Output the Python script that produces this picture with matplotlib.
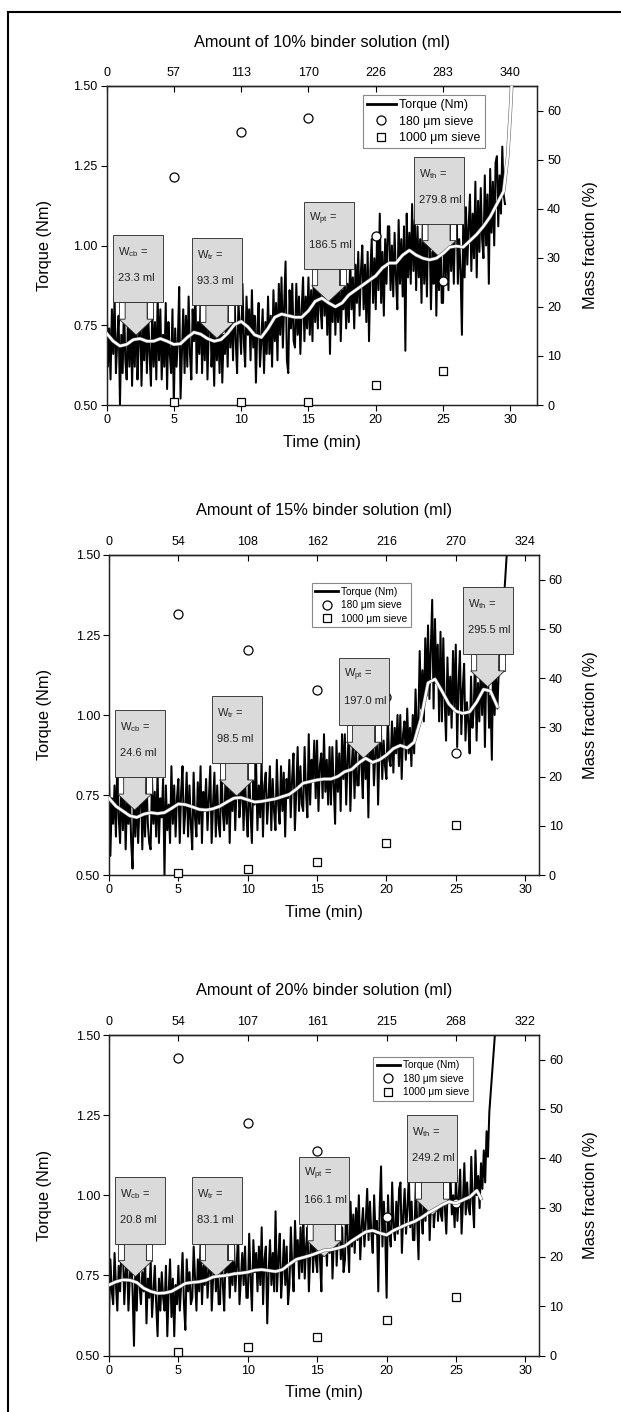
import numpy as np
import matplotlib
matplotlib.use('Agg')
import matplotlib.pyplot as plt
from matplotlib.patches import Polygon, Rectangle
from matplotlib.lines import Line2D
import matplotlib.patheffects as pe
from matplotlib.transforms import IdentityTransform

plt.rcParams['font.family'] = ['Liberation Sans', 'DejaVu Sans']
plt.rcParams['mathtext.fontset'] = 'custom'
plt.rcParams['mathtext.rm'] = 'Liberation Sans'
plt.rcParams['mathtext.it'] = 'Liberation Sans'

# ---------------- data ----------------
DT = 0.1  # sampling interval of torque trace (min)
SIEVE_TIME = [5, 10, 15, 20, 25]
TIME_TICKS = [0, 5, 10, 15, 20, 25, 30]
TORQUE_TICKS = [0.50, 0.75, 1.00, 1.25, 1.50]
MASS_TICKS = [0, 10, 20, 30, 40, 50, 60]

# Panel 1: 10 % binder
P1_TITLE = "Amount of 10% binder solution (ml)"
P1_TOP_LABELS = ['0', '57', '113', '170', '226', '283', '340']
P1_TORQUE = [
    0.86, 0.62, 0.74, 0.58, 0.80, 0.66, 0.84, 0.60, 0.70, 0.78,
    0.50, 0.72, 0.60, 0.82, 0.64, 0.58, 0.78, 0.62, 0.80, 0.56,
    0.76, 0.62, 0.84, 0.58, 0.70, 0.80, 0.56, 0.74, 0.64, 0.82,
    0.60, 0.78, 0.66, 0.56, 0.80, 0.62, 0.76, 0.58, 0.84, 0.64,
    0.80, 0.58, 0.72, 0.62, 0.82, 0.55, 0.76, 0.66, 0.60, 0.80,
    0.50, 0.74, 0.62, 0.70, 0.87, 0.52, 0.66, 0.80, 0.60, 0.78,
    0.62, 0.84, 0.66, 0.58, 0.80, 0.70, 0.86, 0.60, 0.76, 0.66,
    0.86, 0.60, 0.78, 0.64, 0.82, 0.58, 0.74, 0.84, 0.62, 0.72,
    0.56, 0.80, 0.64, 0.76, 0.60, 0.82, 0.57, 0.72, 0.66, 0.78,
    0.62, 0.84, 0.68, 0.80, 0.64, 0.86, 0.70, 0.60, 0.82, 0.74,
    0.66, 0.88, 0.70, 0.62, 0.84, 0.72, 0.80, 0.64, 0.86, 0.68,
    0.78, 0.57, 0.74, 0.82, 0.62, 0.70, 0.80, 0.60, 0.76, 0.66,
    0.84, 0.66, 0.78, 0.62, 0.86, 0.70, 0.82, 0.64, 0.88, 0.72,
    0.90, 0.68, 0.82, 0.95, 0.64, 0.60, 0.86, 0.74, 0.88, 0.70,
    0.68, 0.88, 0.72, 0.84, 0.66, 0.80, 0.90, 0.70, 0.84, 0.74,
    0.90, 0.72, 0.86, 0.70, 0.92, 0.76, 0.88, 0.74, 0.94, 0.80,
    0.74, 0.96, 0.78, 0.90, 0.72, 0.92, 0.66, 0.88, 0.76, 0.94,
    0.72, 0.88, 0.76, 0.92, 0.70, 0.86, 0.80, 0.92, 0.74, 0.88,
    0.76, 0.96, 0.80, 0.90, 0.74, 0.94, 0.82, 0.98, 0.78, 0.92,
    1.00, 0.80, 0.94, 0.76, 0.98, 0.70, 0.92, 1.02, 0.82, 0.96,
    0.80, 1.04, 0.86, 1.10, 0.82, 0.98, 0.78, 1.02, 0.88, 1.06,
    1.06, 0.86, 1.00, 0.84, 1.04, 0.90, 0.80, 1.08, 0.88, 1.02,
    0.84, 1.06, 0.67, 1.10, 0.90, 1.04, 0.88, 1.13, 0.92, 1.08,
    0.86, 1.06, 0.90, 1.02, 0.82, 1.10, 0.88, 1.04, 0.84, 1.08,
    1.04, 0.80, 0.98, 0.88, 1.09, 0.78, 1.00, 0.86, 1.06, 0.82,
    0.82, 1.08, 0.90, 1.04, 0.86, 1.12, 0.92, 1.06, 0.88, 1.10,
    1.14, 0.88, 1.02, 0.92, 0.72, 1.08, 0.90, 1.12, 0.94, 1.06,
    1.16, 0.92, 1.10, 0.96, 1.20, 0.90, 1.14, 0.98, 1.18, 1.02,
    0.96, 1.22, 1.00, 1.16, 0.88, 1.24, 1.04, 1.20, 1.00, 1.26,
    1.28, 1.06, 1.22, 1.10, 1.31, 1.16, 1.13,
]
P1_SMOOTH = [
    0.725, 0.700, 0.685, 0.690, 0.705, 0.708, 0.700, 0.700, 0.708, 0.700,
    0.690, 0.692, 0.712, 0.728, 0.722, 0.708, 0.700, 0.705, 0.725, 0.752,
    0.762, 0.745, 0.720, 0.712, 0.740, 0.775, 0.785, 0.780, 0.775, 0.775,
    0.795, 0.825, 0.835, 0.820, 0.808, 0.820, 0.845, 0.860, 0.875, 0.890,
    0.905, 0.930, 0.945, 0.945, 0.970, 0.985, 0.970, 0.960, 0.955, 0.960,
    0.975, 0.995, 0.998, 0.995, 1.015, 1.035, 1.060, 1.090, 1.130, 1.170,
    1.280, 1.420, 1.550,
]
P1_SMOOTH_TIME = list(np.arange(0, 30, 0.5)) + [29.8, 30.0, 30.15]
P1_180 = [46.5, 55.6, 58.4, 34.4, 25.3]
P1_1000 = [0.6, 0.6, 0.6, 4.1, 6.9]
P1_W_NAME = ['cb', 'tr', 'pt', 'th']
P1_W_ML = [23.3, 93.3, 186.5, 279.8]
P1_W_TIME = [2.2, 8.2, 16.5, 24.7]
P1_W_TORQUE = [0.719, 0.709, 0.824, 0.965]

# Panel 2: 15 % binder
P2_TITLE = "Amount of 15% binder solution (ml)"
P2_TOP_LABELS = ['0', '54', '108', '162', '216', '270', '324']
P2_TORQUE = [
    0.82, 0.56, 0.74, 0.66, 0.78, 0.62, 0.86, 0.68, 0.60, 0.80,
    0.64, 0.80, 0.58, 0.74, 0.66, 0.76, 0.60, 0.52, 0.78, 0.62,
    0.78, 0.60, 0.72, 0.82, 0.58, 0.76, 0.62, 0.80, 0.66, 0.60,
    0.58, 0.80, 0.66, 0.76, 0.62, 0.82, 0.60, 0.74, 0.68, 0.80,
    0.50, 0.78, 0.64, 0.72, 0.60, 0.84, 0.66, 0.78, 0.62, 0.74,
    0.80, 0.60, 0.76, 0.84, 0.63, 0.70, 0.82, 0.62, 0.78, 0.66,
    0.58, 0.82, 0.68, 0.62, 0.79, 0.66, 0.84, 0.60, 0.76, 0.70,
    0.80, 0.64, 0.74, 0.84, 0.60, 0.72, 0.82, 0.62, 0.78, 0.66,
    0.62, 0.86, 0.70, 0.64, 0.80, 0.66, 0.84, 0.60, 0.78, 0.70,
    0.84, 0.64, 0.78, 0.86, 0.68, 0.74, 0.82, 0.64, 0.80, 0.70,
    0.62, 0.84, 0.70, 0.60, 0.80, 0.72, 0.86, 0.64, 0.78, 0.68,
    0.86, 0.62, 0.78, 0.82, 0.66, 0.74, 0.84, 0.64, 0.80, 0.70,
    0.64, 0.86, 0.72, 0.66, 0.84, 0.70, 0.82, 0.62, 0.80, 0.74,
    0.86, 0.68, 0.80, 0.88, 0.64, 0.76, 0.90, 0.70, 0.84, 0.72,
    0.70, 0.90, 0.76, 0.68, 0.94, 0.72, 0.86, 0.80, 0.92, 0.74,
    0.92, 0.70, 0.84, 0.88, 0.74, 0.94, 0.76, 0.86, 0.72, 0.90,
    0.72, 0.90, 0.78, 0.66, 0.92, 0.76, 0.88, 0.70, 0.94, 0.80,
    0.94, 0.72, 0.86, 0.96, 0.70, 0.84, 0.92, 0.74, 0.90, 0.78,
    0.78, 0.96, 0.84, 0.74, 0.98, 0.80, 0.92, 0.68, 0.94, 0.86,
    0.94, 0.78, 0.88, 0.99, 0.72, 0.90, 0.96, 0.80, 0.92, 0.84,
    0.80, 1.00, 0.86, 0.84, 0.98, 0.82, 0.96, 0.88, 1.00, 0.84,
    1.00, 0.80, 0.94, 0.98, 0.86, 1.02, 0.88, 0.96, 0.84, 1.00,
    0.88, 1.08, 0.94, 0.96, 1.20, 1.02, 1.14, 0.98, 1.24, 1.06,
    1.28, 1.05, 1.20, 1.36, 1.02, 1.30, 1.10, 1.22, 0.98, 1.26,
    0.98, 1.24, 1.04, 0.92, 1.18, 1.00, 1.12, 0.96, 1.20, 1.02,
    1.22, 0.90, 1.10, 1.20, 0.94, 1.08, 1.16, 0.92, 1.04, 0.98,
    0.88, 1.12, 0.96, 1.02, 1.20, 0.92, 1.10, 0.98, 1.16, 1.00,
    1.22, 0.90, 1.14, 1.18, 0.96, 1.06, 0.86, 1.20, 1.00, 1.12,
    1.02, 1.14, 1.20, 1.26, 1.32, 1.38, 1.45, 1.52, 1.58,
]
P2_SMOOTH = [
    0.740, 0.715, 0.700, 0.685, 0.680, 0.690, 0.695, 0.692, 0.695, 0.708,
    0.722, 0.720, 0.713, 0.705, 0.703, 0.707, 0.715, 0.728, 0.740, 0.742,
    0.735, 0.728, 0.730, 0.734, 0.738, 0.745, 0.752, 0.768, 0.787, 0.792,
    0.797, 0.800, 0.800, 0.808, 0.823, 0.830, 0.850, 0.865, 0.852, 0.860,
    0.875, 0.895, 0.905, 0.897, 0.915, 0.990, 1.100, 1.112, 1.075, 1.035,
    1.012, 1.005, 1.010, 1.040, 1.080, 1.075, 1.026,
]
P2_SMOOTH_TIME = list(np.arange(0, 28.25, 0.5))
P2_180 = [53.0, 45.7, 37.6, 36.2, 24.8]
P2_1000 = [0.4, 1.2, 2.7, 6.6, 10.1]
P2_W_NAME = ['cb', 'tr', 'pt', 'th']
P2_W_ML = [24.6, 98.5, 197.0, 295.5]
P2_W_TIME = [1.85, 9.2, 18.35, 27.3]
P2_W_TORQUE = [0.703, 0.747, 0.865, 1.088]

# Panel 3: 20 % binder
P3_TITLE = "Amount of 20% binder solution (ml)"
P3_TOP_LABELS = ['0', '54', '107', '161', '215', '268', '322']
P3_TORQUE = [
    0.62, 0.80, 0.70, 0.66, 0.82, 0.72, 0.64, 0.78, 0.70, 0.84,
    0.84, 0.66, 0.76, 0.80, 0.64, 0.74, 0.82, 0.70, 0.53, 0.78,
    0.64, 0.82, 0.72, 0.66, 0.76, 0.70, 0.80, 0.60, 0.74, 0.68,
    0.80, 0.62, 0.70, 0.78, 0.66, 0.56, 0.74, 0.64, 0.76, 0.68,
    0.64, 0.78, 0.56, 0.70, 0.80, 0.62, 0.74, 0.56, 0.72, 0.66,
    0.78, 0.64, 0.72, 0.82, 0.66, 0.58, 0.80, 0.70, 0.76, 0.66,
    0.68, 0.84, 0.74, 0.64, 0.80, 0.70, 0.86, 0.66, 0.78, 0.72,
    0.82, 0.68, 0.76, 0.86, 0.64, 0.74, 0.84, 0.70, 0.80, 0.66,
    0.66, 0.88, 0.72, 0.64, 0.82, 0.76, 0.84, 0.68, 0.80, 0.72,
    0.86, 0.70, 0.78, 0.88, 0.66, 0.74, 0.82, 0.72, 0.84, 0.68,
    0.68, 0.88, 0.74, 0.64, 0.86, 0.76, 0.82, 0.70, 0.84, 0.72,
    0.90, 0.66, 0.80, 0.84, 0.60, 0.76, 0.86, 0.72, 0.82, 0.70,
    0.95, 0.70, 0.80, 0.88, 0.68, 0.76, 0.86, 0.72, 0.84, 0.66,
    0.72, 0.90, 0.78, 0.70, 0.92, 0.80, 0.86, 0.74, 0.90, 0.76,
    0.94, 0.74, 0.84, 0.90, 0.70, 0.82, 0.92, 0.76, 0.88, 0.80,
    0.76, 0.94, 0.80, 0.70, 0.96, 0.84, 0.90, 0.78, 0.92, 0.82,
    0.96, 0.74, 0.86, 0.98, 0.78, 0.88, 0.94, 0.80, 0.90, 0.76,
    0.80, 1.00, 0.86, 0.76, 0.98, 0.84, 0.94, 0.82, 0.96, 0.86,
    1.00, 0.80, 0.90, 0.96, 0.84, 0.92, 1.02, 0.86, 0.98, 0.88,
    0.82, 1.00, 0.88, 0.92, 0.70, 0.96, 1.09, 0.84, 0.98, 0.88,
    0.68, 1.00, 0.88, 0.84, 1.04, 0.90, 0.86, 0.98, 0.88, 1.02,
    1.04, 0.82, 0.94, 1.02, 0.88, 0.96, 1.06, 0.90, 0.98, 0.86,
    0.86, 1.04, 0.92, 0.80, 1.06, 0.94, 0.88, 1.02, 0.92, 1.00,
    1.06, 0.86, 0.98, 1.08, 0.90, 0.96, 1.10, 0.92, 1.02, 0.94,
    0.92, 1.06, 0.96, 0.88, 1.02, 0.98, 1.06, 0.94, 1.00, 0.90,
    1.06, 0.92, 1.00, 1.08, 0.88, 0.98, 1.10, 0.94, 1.04, 0.96,
    0.94, 1.12, 0.98, 0.90, 1.14, 1.00, 1.06, 0.96, 1.10, 1.02,
    1.14, 1.04, 1.20, 1.12, 1.26, 1.32, 1.38, 1.44, 1.50, 1.56,
]
P3_SMOOTH = [
    0.720, 0.730, 0.736, 0.735, 0.728, 0.710, 0.700, 0.694, 0.695, 0.700,
    0.712, 0.725, 0.728, 0.730, 0.735, 0.745, 0.748, 0.750, 0.755, 0.757,
    0.760, 0.766, 0.768, 0.765, 0.762, 0.768, 0.785, 0.800, 0.806, 0.812,
    0.820, 0.828, 0.830, 0.835, 0.842, 0.858, 0.872, 0.886, 0.890, 0.882,
    0.876, 0.890, 0.900, 0.910, 0.918, 0.930, 0.945, 0.957, 0.970, 0.980,
    0.975, 0.985, 0.995, 1.015, 0.990,
]
P3_SMOOTH_TIME = list(np.arange(0, 26.75, 0.5)) + [26.8]
P3_180 = [60.3, 47.2, 41.5, 28.0, 30.9]
P3_1000 = [0.7, 1.8, 3.8, 7.1, 11.8]
P3_W_NAME = ['cb', 'tr', 'pt', 'th']
P3_W_ML = [20.8, 83.1, 166.1, 249.2]
P3_W_TIME = [1.9, 7.75, 15.5, 23.3]
P3_W_TORQUE = [0.746, 0.746, 0.808, 0.938]

# ---------------- layout ----------------
W, H = 621, 1412
fig = plt.figure(figsize=(W / 100, H / 100), dpi=100)
GRAY = '#dadada'
EDGE = '#222222'

panels = [
    dict(rect=(106.5, 86, 537.3, 405), xmax=32, title=P1_TITLE, top=P1_TOP_LABELS,
         torque=P1_TORQUE, st=P1_SMOOTH_TIME, s=P1_SMOOTH, c180=P1_180, c1000=P1_1000,
         wn=P1_W_NAME, wml=P1_W_ML, wt=P1_W_TIME, wT=P1_W_TORQUE,
         leg=(0.595, 0.972), legfs=8.9),
    dict(rect=(109, 555, 539, 875), xmax=31, title=P2_TITLE, top=P2_TOP_LABELS,
         torque=P2_TORQUE, st=P2_SMOOTH_TIME, s=P2_SMOOTH, c180=P2_180, c1000=P2_1000,
         wn=P2_W_NAME, wml=P2_W_ML, wt=P2_W_TIME, wT=P2_W_TORQUE,
         leg=(0.471, 0.9125), legfs=7.3),
    dict(rect=(109, 1035, 539.3, 1355.5), xmax=31, title=P3_TITLE, top=P3_TOP_LABELS,
         torque=P3_TORQUE, st=P3_SMOOTH_TIME, s=P3_SMOOTH, c180=P3_180, c1000=P3_1000,
         wn=P3_W_NAME, wml=P3_W_ML, wt=P3_W_TIME, wT=P3_W_TORQUE,
         leg=(0.6135, 0.932), legfs=7.3),
]

TICK_FS = 9
LABEL_FS = 11.8

for p in panels:
    l, t, r, b = p['rect']
    wpx, hpx = r - l, b - t
    rect = [l / W, (H - b) / H, wpx / W, hpx / H]
    ax = fig.add_axes(rect)
    ax2 = ax.twinx()
    ax3 = fig.add_axes(rect, sharex=ax)
    ax3.set_ylim(0.5, 1.5)
    ax3.axis('off')
    ax3.patch.set_visible(False)

    ax.set_xlim(0, p['xmax'])
    ax.set_ylim(0.5, 1.5)
    ax2.set_ylim(0, 65)

    # torque trace
    tt = np.arange(len(p['torque'])) * DT
    ax.plot(tt, p['torque'], color='black', lw=1.45, zorder=2)

    # sieve fractions
    ax2.plot(SIEVE_TIME, p['c180'], ls='none', marker='o', ms=6.5, mfc='white',
             mec='black', mew=0.9, zorder=3, clip_on=False)
    ax2.plot(SIEVE_TIME, p['c1000'], ls='none', marker='s', ms=5.6, mfc='white',
             mec='black', mew=0.9, zorder=3, clip_on=False)

    # callouts
    tf = IdentityTransform()
    x_left_disp = ax.transAxes.transform((0, 0))[0]
    for nm, ml, wt, wT in zip(p['wn'], p['wml'], p['wt'], p['wT']):
        xt, yt = ax3.transData.transform((wt, wT))
        bw, bh = 50, 67
        bl = max(xt - 25, x_left_disp + 6)
        bb = yt + 33
        hb = yt + 16
        for wx in (xt - 17, xt + 11):
            ax3.add_patch(Rectangle((wx, hb), 6, bb - hb, fc='white', ec=EDGE, lw=0.6,
                                    transform=tf, clip_on=False, zorder=3))
        arrow = [(xt - 11, bb), (xt - 11, hb), (xt - 17, hb), (xt, yt),
                 (xt + 17, hb), (xt + 11, hb), (xt + 11, bb)]
        ax3.add_patch(Polygon(arrow, closed=True, fc=GRAY, ec=EDGE, lw=0.6,
                              transform=tf, clip_on=False, zorder=3))
        ax3.add_patch(Rectangle((bl, bb), bw, bh, fc=GRAY, ec=EDGE, lw=0.6,
                                transform=tf, clip_on=False, zorder=3))
        ax3.text(bl + 5, bb + bh - 17, r'W$_{\rm %s}$ =' % nm, transform=tf,
                 fontsize=8, va='center', ha='left', color='#222222', zorder=5)
        ax3.text(bl + 5, bb + bh - 43, '%.1f ml' % ml, transform=tf,
                 fontsize=8, va='center', ha='left', color='#222222', zorder=5)

    # smoothed torque
    ax3.plot(p['st'], p['s'], color='white', lw=1.8, zorder=4,
             path_effects=[pe.withStroke(linewidth=2.6, foreground='#666666')])

    # axes styling
    for a in (ax, ax2):
        for sp in a.spines.values():
            sp.set_linewidth(0.9)
            sp.set_color('#222222')
    ax.set_xticks(TIME_TICKS)
    ax.set_yticks(TORQUE_TICKS)
    ax.set_yticklabels(['%.2f' % v for v in TORQUE_TICKS])
    ax2.set_yticks(MASS_TICKS)
    ax.tick_params(axis='x', direction='out', length=4, width=0.8, labelsize=TICK_FS, pad=2.5)
    ax.tick_params(axis='y', direction='out', length=4, width=0.8, labelsize=TICK_FS, pad=2.5)
    ax2.tick_params(axis='y', direction='out', length=4, width=0.8, labelsize=TICK_FS, pad=3)

    sec = ax.secondary_xaxis('top')
    sec.set_xticks(TIME_TICKS)
    sec.set_xticklabels(p['top'])
    sec.tick_params(direction='in', length=4, width=0.8, labelsize=TICK_FS, pad=5)
    sec.spines['top'].set_linewidth(0.9)
    ax.text(0.5, 1 + 44 / hpx, p['title'], transform=ax.transAxes, fontsize=LABEL_FS,
            ha='center', va='center')

    ax.set_xlabel('Time (min)', fontsize=LABEL_FS)
    ax.xaxis.set_label_coords(0.5, -37 / hpx)
    ax.xaxis.label.set_va('center')
    ax.set_ylabel('Torque (Nm)', fontsize=LABEL_FS)
    ax.yaxis.set_label_coords((44 - l) / wpx, 0.5)
    ax.yaxis.label.set_va('center')
    ax2.set_ylabel('Mass fraction (%)', fontsize=LABEL_FS)
    ax2.yaxis.set_label_coords((590 - l) / wpx, 0.5)
    ax2.yaxis.label.set_va('center')

    # legend
    handles = [Line2D([], [], color='black', lw=2),
               Line2D([], [], ls='none', marker='o', ms=6.5, mfc='white', mec='black', mew=0.9),
               Line2D([], [], ls='none', marker='s', ms=5.6, mfc='white', mec='black', mew=0.9)]
    labels = ['Torque (Nm)', '180 \u03bcm sieve', '1000 \u03bcm sieve']
    leg = ax3.legend(handles, labels, loc='upper left', bbox_to_anchor=p['leg'],
                     borderaxespad=0, fontsize=p['legfs'], frameon=True, fancybox=False,
                     framealpha=1, edgecolor='#888888', handlelength=2.3,
                     handletextpad=0.3, labelspacing=0.35, borderpad=0.35)
    leg.get_frame().set_linewidth(0.8)
    leg.set_zorder(6)

# outer frame (cropped on the right and bottom)
fig.add_artist(Line2D([8 / W, 1], [1 - 11.5 / H, 1 - 11.5 / H], transform=fig.transFigure,
                      color='black', lw=1.5))
fig.add_artist(Line2D([8 / W, 8 / W], [0, 1 - 11.5 / H], transform=fig.transFigure,
                      color='black', lw=1.5))

fig.savefig('out.png', dpi=100)
